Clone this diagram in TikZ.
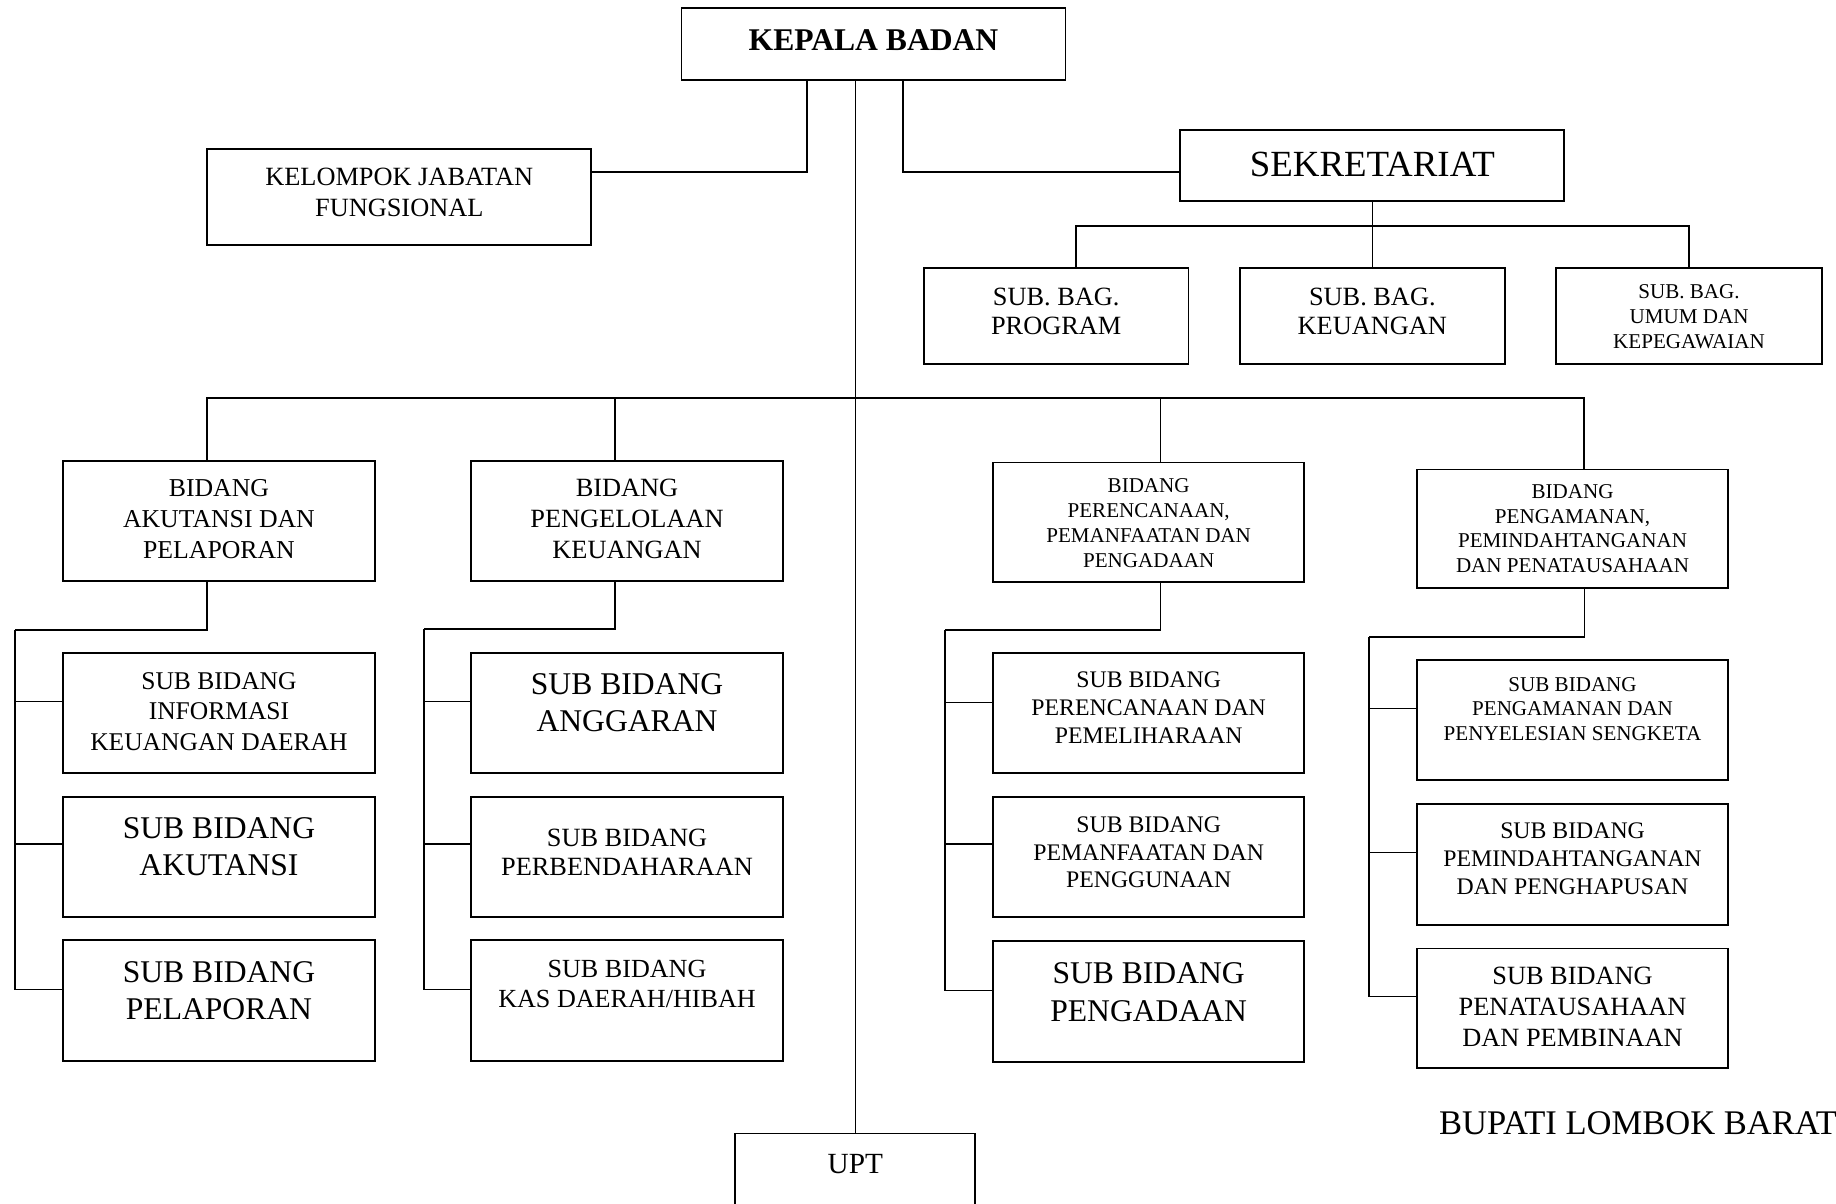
\documentclass[tikz,border=0pt]{standalone}
\usepackage{fontspec}
\setmainfont{Liberation Serif}
\tikzset{
  boxst/.style={draw, line width=1.6pt, inner sep=0pt, outer sep=0pt},
  txt/.style={align=center, inner sep=0pt, yshift=-1.5pt},
  conn/.style={line width=1.3pt},
  bar/.style={line width=2pt},
}
\newcommand\fs[2]{\fontsize{#1}{#2}\selectfont}
% name, x1, y1, x2, y2, text-y, font, text
\newcommand\orgbox[8]{%
  \node[boxst, minimum width=#4-#2, minimum height=#5-#3] (#1) at ({(#2+#4)/2},{(#3+#5)/2}) {};
  \node[txt, font=#7] (#1-t) at ({(#2+#4)/2},#6) {#8};
}
\begin{document}
\begin{tikzpicture}[x=1pt,y=-1pt]
\clip (0,0) rectangle (1568,1028);
\fill[white] (0,0) rectangle (1568,1028);

\orgbox{kepala}{582}{7}{910}{68}{33}{\fs{27}{31}\bfseries}{KEPALA BADAN}
\orgbox{kelompok}{177}{127}{505}{209}{163}{\fs{22.5}{26}}{KELOMPOK JABATAN\\FUNGSIONAL}
\orgbox{sekret}{1008}{111}{1336}{172}{139}{\fs{31.5}{36}}{SEKRETARIAT}
\orgbox{sbprog}{789}{229}{1015}{311}{264.5}{\fs{22.5}{25}}{SUB. BAG.\\PROGRAM}
\orgbox{sbkeu}{1059}{229}{1285}{311}{264.5}{\fs{22.5}{25}}{SUB. BAG.\\KEUANGAN}
\orgbox{sbumum}{1329}{229}{1556}{311}{269}{\fs{18}{21}}{SUB. BAG.\\UMUM DAN\\KEPEGAWAIAN}

\orgbox{bak}{54}{394}{320}{496}{442}{\fs{22}{26.5}}{BIDANG\\AKUTANSI DAN\\PELAPORAN}
\orgbox{bpk}{402}{394}{669}{496}{442}{\fs{22.5}{26.5}}{BIDANG\\PENGELOLAAN\\KEUANGAN}
\orgbox{bpp}{848}{395}{1114}{497}{445}{\fs{18}{21.3}}{BIDANG\\PERENCANAAN,\\PEMANFAATAN DAN\\PENGADAAN}
\orgbox{bppp}{1210}{401}{1476}{502}{450}{\fs{18}{21}}{BIDANG\\PENGAMANAN,\\PEMINDAHTANGANAN\\DAN PENATAUSAHAAN}

\orgbox{s11}{54}{558}{320}{660}{606}{\fs{21.8}{26}}{SUB BIDANG\\INFORMASI\\KEUANGAN DAERAH}
\orgbox{s12}{54}{681}{320}{783}{721.5}{\fs{27}{31}}{SUB BIDANG\\AKUTANSI}
\orgbox{s13}{54}{803}{320}{906}{844.5}{\fs{27}{31}}{SUB BIDANG\\PELAPORAN}

\orgbox{s21}{402}{558}{669}{660}{598.5}{\fs{27}{31}}{SUB BIDANG\\ANGGARAN}
\orgbox{s22}{402}{681}{669}{783}{726.5}{\fs{22.5}{25}}{SUB BIDANG\\PERBENDAHARAAN}
\orgbox{s23}{402}{803}{669}{906}{839}{\fs{22.3}{26}}{SUB BIDANG\\KAS DAERAH/HIBAH}

\orgbox{s31}{848}{558}{1114}{660}{603}{\fs{20.3}{24}}{SUB BIDANG\\PERENCANAAN DAN\\PEMELIHARAAN}
\orgbox{s32}{848}{681}{1114}{783}{726.5}{\fs{20.3}{23.5}}{SUB BIDANG\\PEMANFAATAN DAN\\PENGGUNAAN}
\orgbox{s33}{848}{804}{1114}{907}{846}{\fs{27}{32}}{SUB BIDANG\\PENGADAAN}

\orgbox{s41}{1210}{564}{1476}{666}{604}{\fs{18}{21}}{SUB BIDANG\\PENGAMANAN DAN\\PENYELESIAN SENGKETA}
\orgbox{s42}{1210}{687}{1476}{790}{732}{\fs{20.3}{24}}{SUB BIDANG\\PEMINDAHTANGANAN\\DAN PENGHAPUSAN}
\orgbox{s43}{1210}{810}{1476}{912}{858.5}{\fs{22.5}{26.5}}{SUB BIDANG\\PENATAUSAHAAN\\DAN PEMBINAAN}

\orgbox{upt}{628}{968}{833}{1050}{993}{\fs{25}{29}}{UPT}
\node[txt, font=\fs{29.5}{34}] (bupati) at (1399,958) {BUPATI LOMBOK BARAT};

% connectors from Kepala Badan
\draw[conn] ([xshift=-57pt]kepala.south) |- ([yshift=21pt]kelompok.east);
\draw[conn] ([xshift=25pt]kepala.south) |- ([yshift=-5.5pt]sekret.west);
\draw[conn] (upt.north) -- (upt.north |- kepala.south);

% sekretariat
\coordinate (sj) at (1172,193);
\draw[conn] (sekret.south) -- (sbkeu.north);
\draw[conn] ([xshift=17pt]sbprog.north) |- (sj) -| (sbumum.north);

% main bar
\coordinate (mj) at (730,340);
\draw[bar] ([xshift=-10pt]bak.north) |- (mj);
\draw[bar] ([xshift=10pt]bppp.north) |- (mj);
\draw[conn] ([xshift=-10.5pt]bpk.north) -- ([xshift=-10.5pt]bpk.north |- mj);
\draw[conn] ([xshift=10pt]bpp.north) -- ([xshift=10pt]bpp.north |- mj);

% column 1
\coordinate (l1) at (13,538);
\draw[conn] ([xshift=-10pt]bak.south) |- (l1);
\draw[conn] ([yshift=10pt]s11.west) -| (l1);
\draw[conn] ([yshift=11pt]s12.west) -| (l1);
\draw[conn] ([yshift=9.5pt]s13.west) -| (l1);

% column 2
\coordinate (l2) at (362,537);
\draw[conn] ([xshift=-10.5pt]bpk.south) |- (l2);
\draw[conn] ([yshift=10pt]s21.west) -| (l2);
\draw[conn] ([yshift=11pt]s22.west) -| (l2);
\draw[conn] ([yshift=9.5pt]s23.west) -| (l2);

% column 3
\coordinate (l3) at (807,538);
\draw[conn] ([xshift=10pt]bpp.south) |- (l3);
\draw[conn] ([yshift=9pt]s31.west) -| (l3);
\draw[conn] ([yshift=11pt]s32.west) -| (l3);
\draw[conn] ([yshift=9.5pt]s33.west) -| (l3);

% column 4
\coordinate (l4) at (1169,544);
\draw[conn] ([xshift=10pt]bppp.south) |- (l4);
\draw[conn] ([yshift=10pt]s41.west) -| (l4);
\draw[conn] ([yshift=10.5pt]s42.west) -| (l4);
\draw[conn] ([yshift=10pt]s43.west) -| (l4);
\end{tikzpicture}
\end{document}
